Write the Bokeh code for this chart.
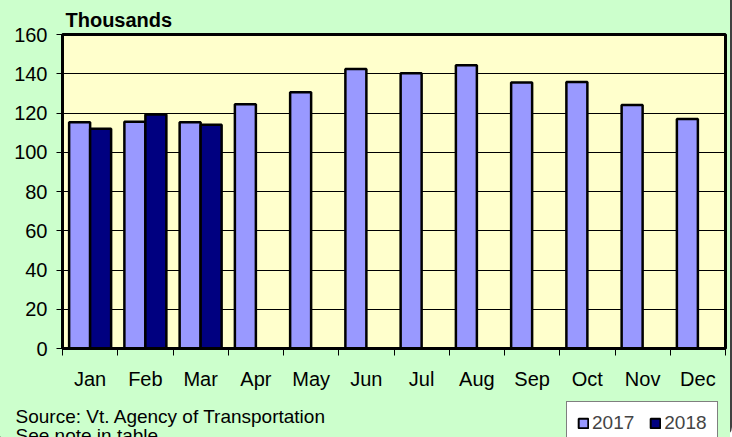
from bokeh.plotting import figure
from bokeh.layouts import column
from bokeh.models import (ColumnDataSource, Range1d, FixedTicker, Legend, LegendItem, Label)
from bokeh.transform import dodge
from bokeh.embed import file_html
from bokeh.resources import INLINE

# ---- data ----
months = ["Jan", "Feb", "Mar", "Apr", "May", "Jun", "Jul", "Aug", "Sep", "Oct", "Nov", "Dec"]
values_2017 = [115.3, 115.5, 115.3, 124.4, 130.6, 142.4, 140.2, 144.3, 135.6, 135.8, 124.1, 117.0]
values_2018 = [112.0, 119.2, 114.0]
y_ticks = [0, 20, 40, 60, 80, 100, 120, 140, 160]
series_names = ["2017", "2018"]
unit_title = "Thousands"
source_note = "Source: Vt. Agency of Transportation"
table_note = "See note in table."

FONT = "Liberation Sans"
GREEN = "#CCFFCC"
YELLOW = "#FFFFCC"
C2017 = "#9999FF"
C2018 = "#000080"

idx = list(range(len(months)))
src17 = ColumnDataSource(dict(x=idx, v=values_2017))
src18 = ColumnDataSource(dict(x=idx[:len(values_2018)], v=values_2018))

W = 730
p = figure(width=W, height=392, output_backend="svg", toolbar_location=None,
           x_range=Range1d(-0.5, len(months) - 0.5), y_range=Range1d(y_ticks[0], y_ticks[-1]),
           min_border_left=62, min_border_right=5, min_border_top=34, min_border_bottom=42)
p.frame_align = False

p.background_fill_color = YELLOW
p.border_fill_color = GREEN
p.outline_line_color = "black"
p.outline_line_width = 3

p.title.text = unit_title
p.title.align = "left"
p.title.offset = 3
p.title.standoff = 7
p.title.text_font = FONT
p.title.text_font_size = "20px"
p.title.text_font_style = "bold"
p.title.text_color = "black"

bw = 0.38
r17 = p.vbar(x=dodge("x", -bw / 2, range=p.x_range), top="v", width=bw, source=src17,
             fill_color=C2017, line_color="black", line_width=2.5)
r18 = p.vbar(x=dodge("x", bw / 2, range=p.x_range), top="v", width=bw, source=src18,
             fill_color=C2018, line_color="black", line_width=2.5)

# y axis
yax = p.yaxis[0]
yax.ticker = FixedTicker(ticks=y_ticks)
yax.axis_line_color = "black"
yax.axis_line_width = 3
yax.major_tick_in = 0
yax.major_tick_out = 6
yax.major_tick_line_color = "black"
yax.major_tick_line_width = 1
yax.minor_tick_line_color = None
yax.major_label_text_font = FONT
yax.major_label_text_font_size = "20px"
yax.major_label_text_color = "black"
yax.major_label_standoff = 9

# x axis: labels at centers, tick marks at category boundaries
xax = p.xaxis[0]
xax.ticker = FixedTicker(ticks=idx, minor_ticks=[i - 0.5 for i in range(len(months) + 1)])
xax.major_label_overrides = {i: m for i, m in zip(idx, months)}
xax.axis_line_color = "black"
xax.axis_line_width = 3
xax.major_tick_line_color = None
xax.major_tick_in = 0
xax.major_tick_out = 0
xax.minor_tick_line_color = "black"
xax.minor_tick_line_width = 1
xax.minor_tick_in = 0
xax.minor_tick_out = 7
xax.major_label_text_font = FONT
xax.major_label_text_font_size = "20px"
xax.major_label_text_color = "black"
xax.major_label_standoff = 12

p.xgrid.grid_line_color = None
p.ygrid.grid_line_color = "black"
p.ygrid.grid_line_width = 1

# ---- footer strip: notes + legend ----
FH = 45
f = figure(width=W, height=FH, output_backend="svg", toolbar_location=None,
           x_range=Range1d(0, W), y_range=Range1d(0, FH),
           x_axis_location=None, y_axis_location=None,
           min_border_left=0, min_border_right=0, min_border_top=0, min_border_bottom=0)
f.frame_align = False
f.background_fill_color = GREEN
f.border_fill_color = GREEN
f.outline_line_color = None
f.grid.visible = False

f.add_layout(Label(x=15, y=21, text=source_note, text_font=FONT, text_font_size="19px",
                   text_color="black", text_baseline="alphabetic"))
f.add_layout(Label(x=15, y=2, text=table_note, text_font=FONT, text_font_size="19px",
                   text_color="black", text_baseline="alphabetic"))

# legend swatch renderers (kept off-screen, only used for the legend's glyphs)
swatch = ColumnDataSource(dict(x=[-1000], v=[0]))
l17 = f.vbar(x="x", top="v", width=1, source=swatch, fill_color=C2017,
             line_color="black", line_width=2)
l18 = f.vbar(x="x", top="v", width=1, source=swatch, fill_color=C2018,
             line_color="black", line_width=2)

legend = Legend(items=[LegendItem(label=series_names[0], renderers=[l17]),
                       LegendItem(label=series_names[1], renderers=[l18])],
                orientation="horizontal", location=(566, -8),
                glyph_width=12, glyph_height=12, label_standoff=3, spacing=15,
                padding=10, margin=0,
                label_text_font=FONT, label_text_font_size="19px",
                border_line_color="black", border_line_width=1,
                background_fill_color="white", background_fill_alpha=1)
f.add_layout(legend)

layout = column(p, f, spacing=0,
                styles={"background-color": GREEN, "border-right": "2px solid #404040",
                        "border-bottom-right-radius": "10px"})
open("out.html", "w").write(file_html(layout, INLINE))
